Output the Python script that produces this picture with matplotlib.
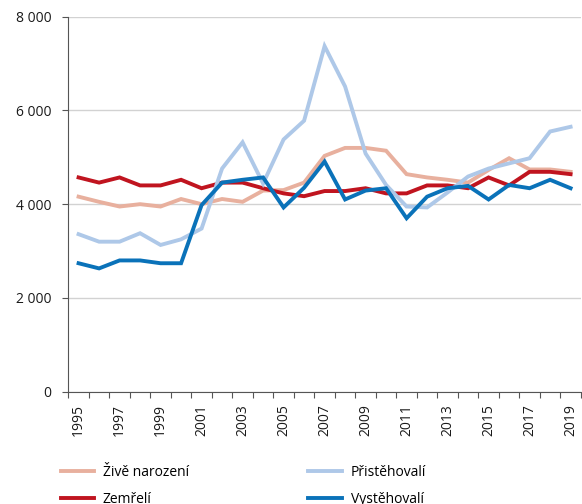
import matplotlib.pyplot as plt
import numpy as np

plt.rcParams['font.family'] = ['Open Sans', 'DejaVu Sans']

roky = list(range(1995, 2020))
zive_narozeni = [4160, 4050, 3950, 4000, 3950, 4110, 4000, 4110, 4050, 4290, 4300, 4460,
                 5030, 5200, 5200, 5140, 4640, 4570, 4520, 4460, 4730, 4980, 4740, 4740, 4690]
zemreli = [4570, 4460, 4570, 4400, 4400, 4520, 4340, 4460, 4460, 4340, 4230, 4170,
           4280, 4280, 4340, 4230, 4230, 4400, 4400, 4340, 4570, 4400, 4690, 4690, 4640]
pristehovali = [3360, 3200, 3200, 3380, 3130, 3250, 3480, 4760, 5320, 4440, 5380, 5780,
                7370, 6510, 5080, 4410, 3950, 3930, 4250, 4590, 4760, 4870, 4980, 5550, 5650]
vystehovali = [2740, 2630, 2800, 2800, 2740, 2740, 3980, 4460, 4520, 4570, 3930, 4350,
               4910, 4100, 4290, 4340, 3700, 4160, 4340, 4390, 4100, 4410, 4340, 4520, 4340]

nazvy = ['Živě narození', 'Zemřelí', 'Přistěhovalí', 'Vystěhovalí']
barvy = ['#e8b09e', '#c0141f', '#aec8e8', '#0a72b9']

fig = plt.figure(figsize=(5.82, 5.04), dpi=100)
ax = fig.add_axes([0.1174, 0.2228, 0.8806, 0.7442])

x = np.arange(len(roky))
cary = []
for data, barva, nazev in zip([zive_narozeni, zemreli, pristehovali, vystehovali], barvy, nazvy):
    l, = ax.plot(x, data, color=barva, lw=2.8, label=nazev, solid_joinstyle='miter')
    cary.append(l)

ax.set_xlim(-0.5, len(roky) - 0.5)
ax.set_ylim(0, 8000)
yt = [0, 2000, 4000, 6000, 8000]
ax.set_yticks(yt)
ax.set_yticklabels([f"{v:,.0f}".replace(",", " ") for v in yt])
ax.grid(axis='y', color='#d2d2d2', lw=1.0)
ax.set_axisbelow(True)

liche = [i for i, r in enumerate(roky) if r % 2 == 1]
ax.set_xticks(liche)
ax.set_xticklabels([str(roky[i]) for i in liche], rotation=90)
ax.set_xticks(np.arange(-0.5, len(roky)), minor=True)
ax.tick_params(axis='x', which='major', length=0, pad=9, labelsize=10, colors='#1a1a1a')
ax.tick_params(axis='x', which='minor', length=4, width=0.8, color='#555555', direction='out')
ax.tick_params(axis='y', length=4, width=0.8, color='#555555', labelsize=10, pad=8,
               labelcolor='#1a1a1a')

for s in ['top', 'right']:
    ax.spines[s].set_visible(False)
for s in ['left', 'bottom']:
    ax.spines[s].set_color('#555555')
    ax.spines[s].set_linewidth(0.8)

fig.legend(cary, nazvy, loc='upper left',
           bbox_to_anchor=(0.104, 0.078), ncol=2, frameon=False, fontsize=10,
           handlelength=2.4, handletextpad=0.65, columnspacing=8.6, labelspacing=0.9,
           borderaxespad=0, borderpad=0)

fig.savefig('out.png', dpi=100)
